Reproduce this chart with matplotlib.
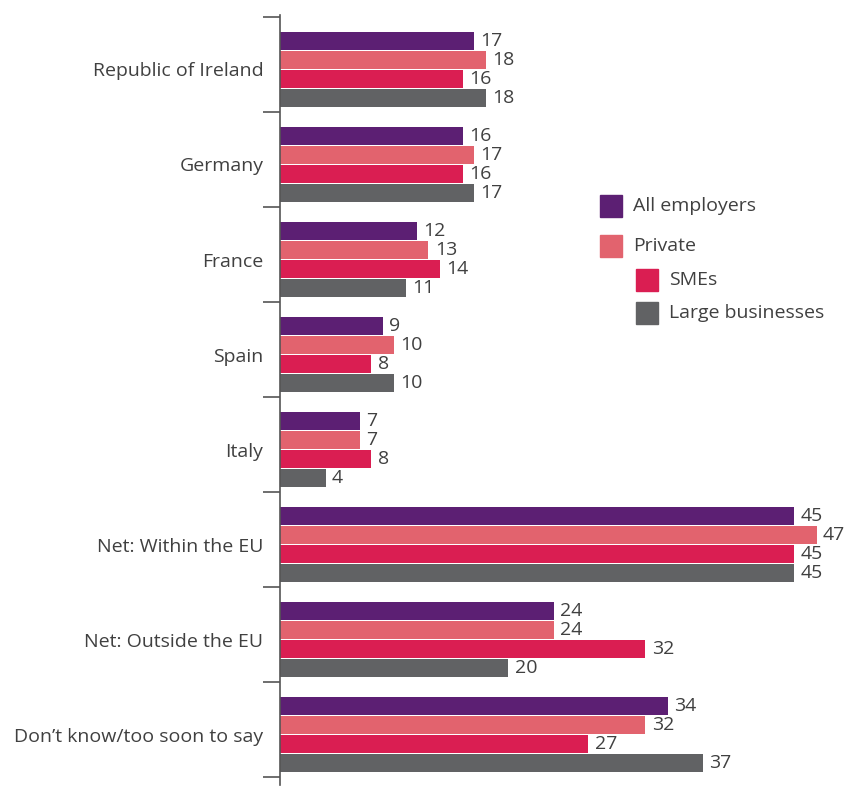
import matplotlib
matplotlib.use("Agg")
import matplotlib.pyplot as plt
from matplotlib.patches import Rectangle
import numpy as np

categories = ["Republic of Ireland", "Germany", "France", "Spain", "Italy",
              "Net: Within the EU", "Net: Outside the EU", "Don’t know/too soon to say"]
series_names = ["All employers", "Private", "SMEs", "Large businesses"]
all_employers = [17, 16, 12, 9, 7, 45, 24, 34]
private = [18, 17, 13, 10, 7, 47, 24, 32]
smes = [16, 16, 14, 8, 8, 45, 32, 27]
large_businesses = [18, 17, 11, 10, 4, 45, 20, 37]
colors = ["#5C1F73", "#E2636E", "#DA1E52", "#616264"]

text_color = "#404040"
plt.rcParams["font.family"] = ["Open Sans", "DejaVu Sans"]
FS = 14

fig = plt.figure(figsize=(8.46, 7.89), dpi=100)
ax = fig.add_axes([0.331, 0.005, 0.66, 0.976])

series = [all_employers, private, smes, large_businesses]
y = np.arange(len(categories))
step = 0.2
offsets = (np.arange(4) - 1.5) * step
for vals, off, c in zip(series, offsets, colors):
    bars = ax.barh(y + off, vals, height=0.19, color=c)
    for b, v in zip(bars, vals):
        ax.text(b.get_width() + 0.55, b.get_y() + b.get_height() / 2, str(v),
                va="center", ha="left", fontsize=FS, color=text_color)

ax.set_ylim(7.53, -0.573)
ax.set_xlim(0, 48.9)
ax.set_yticks(y)
ax.set_yticklabels(categories, fontsize=FS, color=text_color)
ax.tick_params(axis="y", which="major", length=0, pad=12)
ax.set_yticks(np.arange(-1, len(categories)) + 0.45, minor=True)
ax.tick_params(axis="y", which="minor", length=12, width=1.2, color="#555555")
ax.set_xticks([])
for s in ["top", "right", "bottom"]:
    ax.spines[s].set_visible(False)
ax.spines["left"].set_color("#555555")
ax.spines["left"].set_linewidth(1.2)

# legend with sub-series indented under "Private"
legend_rows = [(600, 206, 0), (600, 246, 1), (636, 280, 2), (636, 313, 3)]
W, H = 846, 789
for px, py, i in legend_rows:
    fig.patches.append(Rectangle((px / W, 1 - (py + 11) / H), 22 / W, 22 / H,
                                 transform=fig.transFigure, color=colors[i]))
    fig.text((px + 33) / W, 1 - py / H, series_names[i], fontsize=FS,
             color=text_color, va="center", ha="left")

fig.savefig("out.png", dpi=100)
